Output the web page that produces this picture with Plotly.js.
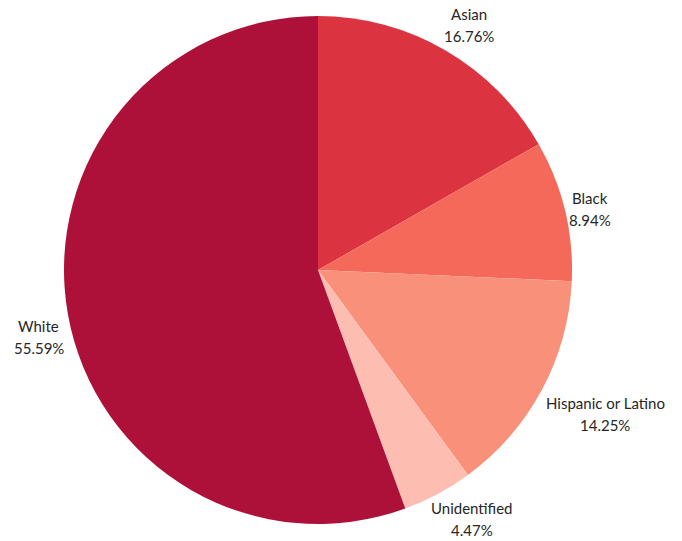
<!DOCTYPE html>
<html><head><meta charset="utf-8">
<script src="https://cdn.plot.ly/plotly-3.0.1.min.js"></script>
<style>html,body{margin:0;padding:0;background:#fff;}</style>
</head><body>
<div id="chart" style="width:682px;height:541px;"></div>
<script>
const categories = ["Asian", "Black", "Hispanic or Latino", "Unidentified", "White"];
const shares = [16.76, 8.94, 14.25, 4.47, 55.59];
const colors = ["#dc3340", "#f4695a", "#f9907a", "#fdbdb1", "#ad1139"];

const FONT = "Lato, 'Noto Sans', sans-serif";
const FONT_SIZE = 15;
const TEXT_COLOR = "#262626";
const W = 682, H = 541;
const margin = {l: 64, r: 110, t: 16, b: 17};
const plotSize = W - margin.l - margin.r;   // square pie domain (508 px)
const radius = plotSize / 2;
const cx0 = margin.l + radius, cy0 = margin.t + radius; // pie centre, px
const gap = 4;          // px between circle and label anchor
const linePitch = 22;   // px between the two label lines
const boxH = 44;        // two-line label block height, px

const ctx = document.createElement("canvas").getContext("2d");
ctx.font = FONT_SIZE + "px " + FONT;

const toPaperX = px => (px - margin.l) / plotSize;
const toPaperY = py => 1 - (py - margin.t) / plotSize;

// labels anchored at the circle point on each slice's mid-angle
const total = shares.reduce((a, b) => a + b, 0);
let cum = 0;
const annotations = [];
categories.forEach((cat, i) => {
  const mid = (cum + shares[i] / 2) / total * 2 * Math.PI;
  cum += shares[i];
  const pct = shares[i].toFixed(2) + "%";
  const boxW = Math.max(ctx.measureText(cat).width, ctx.measureText(pct).width);
  const ux = Math.sin(mid), uy = -Math.cos(mid);   // screen direction (y down)
  const px = cx0 + ux * (radius + gap), py = cy0 + uy * (radius + gap);
  const fx = Math.min(1, Math.max(0, 0.5 - 0.85 * ux));
  const fy = uy > 0.15 ? 0 : (uy < -0.3 ? 1 : 0.5);
  const left = px - fx * boxW;
  let top = py - fy * boxH;
  top = Math.min(H - boxH, Math.max(0, top));
  const centreX = left + boxW / 2;
  [cat, pct].forEach((t, k) => {
    annotations.push({
      xref: "paper", yref: "paper",
      x: toPaperX(centreX), y: toPaperY(top + k * linePitch),
      xanchor: "center", yanchor: "top",
      text: t, showarrow: false, borderpad: 1,
      font: {family: FONT, size: FONT_SIZE, color: TEXT_COLOR}
    });
  });
});

Plotly.newPlot("chart", [{
  type: "pie",
  labels: categories,
  values: shares,
  sort: false,
  direction: "clockwise",
  rotation: 0,
  marker: {colors: colors, line: {width: 0}},
  textinfo: "none",
  hoverinfo: "label+value",
  showlegend: false
}], {
  width: W, height: H,
  margin: margin,
  paper_bgcolor: "#fff",
  font: {family: FONT, size: FONT_SIZE, color: TEXT_COLOR},
  annotations: annotations
}, {displayModeBar: false, staticPlot: true});
</script>
</body></html>
